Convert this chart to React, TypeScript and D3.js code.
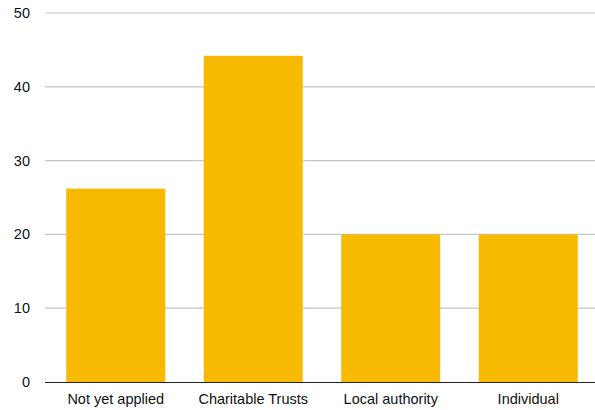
import * as React from "react";
import * as d3 from "d3";

const categories = ["Not yet applied", "Charitable Trusts", "Local authority", "Individual"];
const values = [26.2, 44.2, 20, 20];
const yTicks = [0, 10, 20, 30, 40, 50];

export default function App() {
  const width = 595;
  const height = 410;
  const margin = { top: 13, right: 0, bottom: 28, left: 45 };

  const x = d3
    .scaleBand<string>()
    .domain(categories)
    .range([47, 597])
    .paddingInner(0.28)
    .paddingOuter(0.14);

  const y = d3
    .scaleLinear()
    .domain([0, 50])
    .range([height - margin.bottom, margin.top]);

  const font = "'Liberation Sans', Arial, Helvetica, sans-serif";

  return (
    <div style={{ position: "absolute", left: 0, top: 0 }}>
      <svg width={width} height={height} style={{ display: "block" }}>
        <rect width={width} height={height} fill="#fff" />
        {/* gridlines + y labels */}
        {yTicks.map((t) => (
          <g key={t}>
            {t !== 0 && (
              <line
                x1={margin.left}
                x2={width}
                y1={y(t)}
                y2={y(t)}
                stroke="#c6c6c6"
                strokeWidth={1.2}
              />
            )}
            <text
              x={30}
              y={y(t)}
              dy="0.35em"
              textAnchor="end"
              fontFamily={font}
              fontSize={14.5}
              fill="#111"
            >
              {t}
            </text>
          </g>
        ))}
        {/* bars */}
        {categories.map((c, i) => (
          <rect
            key={c}
            x={x(c)}
            y={y(values[i])}
            width={x.bandwidth()}
            height={y(0) - y(values[i])}
            fill="#F7BA00"
          />
        ))}
        {/* baseline */}
        <line
          x1={margin.left}
          x2={width}
          y1={y(0) + 0.5}
          y2={y(0) + 0.5}
          stroke="#222"
          strokeWidth={1.2}
        />
        {/* x labels */}
        {categories.map((c) => (
          <text
            key={c}
            x={(x(c) ?? 0) + x.bandwidth() / 2}
            y={404}
            textAnchor="middle"
            fontFamily={font}
            fontSize={14.5}
            fill="#111"
          >
            {c}
          </text>
        ))}
      </svg>
    </div>
  );
}
